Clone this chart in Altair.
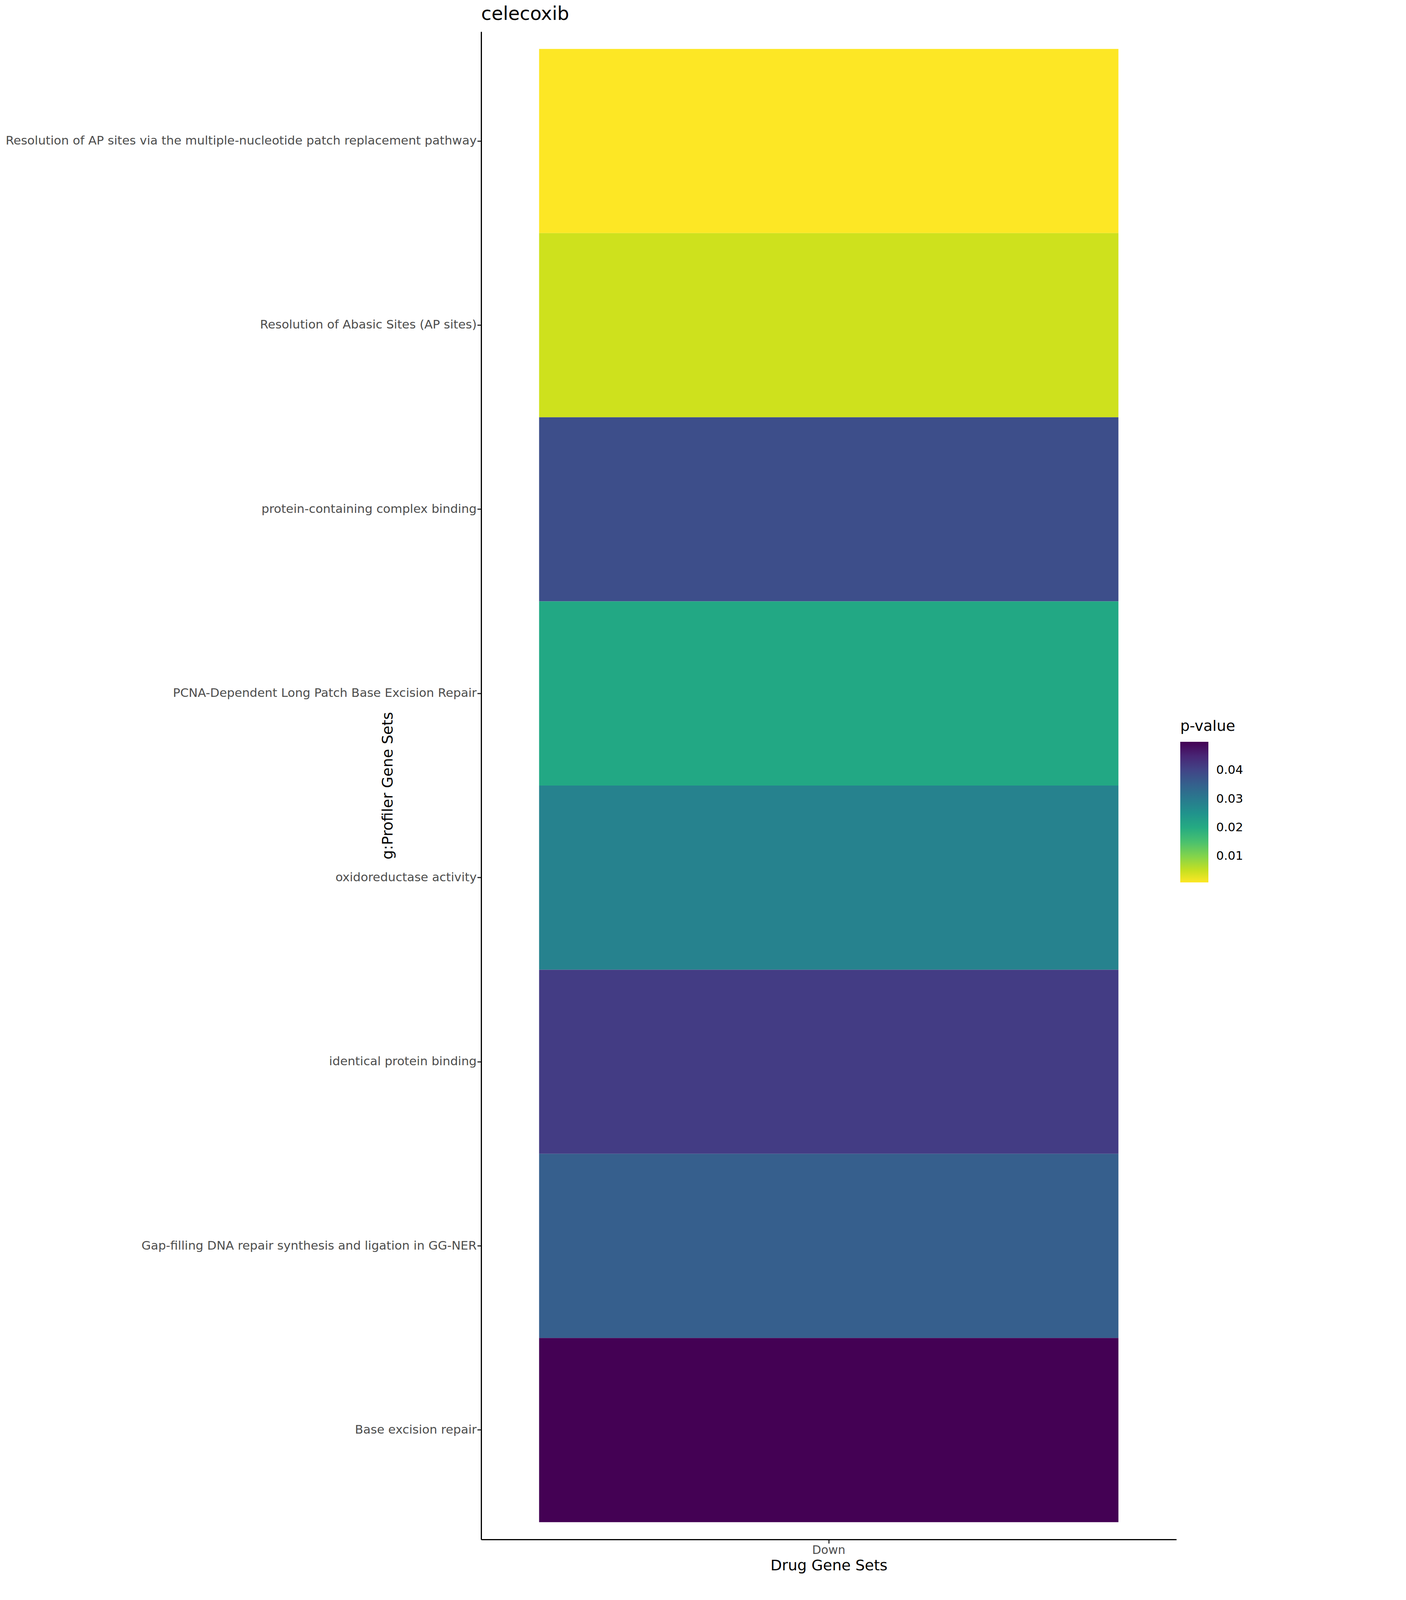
import altair as alt
import pandas as pd

gene_sets = [
    "Resolution of AP sites via the multiple-nucleotide patch replacement pathway",
    "Resolution of Abasic Sites (AP sites)",
    "protein-containing complex binding",
    "PCNA-Dependent Long Patch Base Excision Repair",
    "oxidoreductase activity",
    "identical protein binding",
    "Gap-filling DNA repair synthesis and ligation in GG-NER",
    "Base excision repair",
]
drug_sets = ["Down"] * 8
p_values = [0.0009, 0.0045, 0.0385, 0.0205, 0.0285, 0.0415, 0.0355, 0.0500]

df = pd.DataFrame({"gene_set": gene_sets, "drug": drug_sets, "p": p_values})

chart = alt.Chart(df).mark_rect().encode(
    x=alt.X("drug:N", title="Drug Gene Sets",
            scale=alt.Scale(paddingInner=0, paddingOuter=0.1),
            axis=alt.Axis(labelAngle=0, labelFontSize=30, titleFontSize=38,
                          labelColor="#4d4d4d", titleColor="black", titlePadding=6)),
    y=alt.Y("gene_set:N", title="g:Profiler Gene Sets", sort=gene_sets,
            scale=alt.Scale(paddingInner=0, paddingOuter=0.094),
            axis=alt.Axis(labelFontSize=31, titleFontSize=38, labelLimit=2000,
                          labelColor="#4d4d4d", titleColor="black", titlePadding=20)),
    color=alt.Color("p:Q", title="p-value",
                    scale=alt.Scale(scheme="viridis", reverse=True, domain=[0.0009, 0.05]),
                    legend=alt.Legend(orient="none", legendX=1790, legendY=1760,
                                      gradientLength=360, gradientThickness=72,
                                      values=[0.01, 0.02, 0.03, 0.04],
                                      labelFontSize=31, titleFontSize=38,
                                      titlePadding=20, labelOffset=20)),
).properties(
    width=1780, height=3860,
    title=alt.Title("celecoxib", anchor="start", frame="group", fontSize=48,
                    fontWeight="normal", offset=20),
).configure_view(strokeWidth=0).configure_axis(
    grid=False, domainColor="black", domainWidth=3, tickColor="#333", tickWidth=3,
    tickSize=10, labelFont="DejaVu Sans", titleFont="DejaVu Sans", titleFontWeight="normal",
).configure_legend(
    labelFont="DejaVu Sans", titleFont="DejaVu Sans", titleFontWeight="normal",
).configure_title(font="DejaVu Sans")

chart.save("out.html", embed_options={"renderer": "svg", "actions": False})
